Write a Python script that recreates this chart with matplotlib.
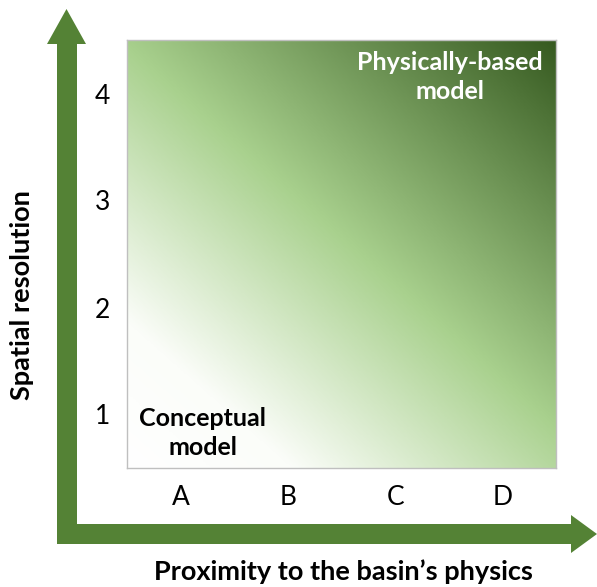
import numpy as np
import matplotlib.pyplot as plt
from matplotlib.colors import LinearSegmentedColormap
from matplotlib.patches import Polygon, Rectangle

plt.rcParams['font.family'] = ['Lato', 'DejaVu Sans']

x_labels = ['A', 'B', 'C', 'D']
y_labels = ['1', '2', '3', '4']
x_title = 'Proximity to the basin\u2019s physics'
y_title = 'Spatial resolution'
low_label = 'Conceptual\nmodel'
high_label = 'Physically-based\nmodel'

W, H = 597, 587
fig = plt.figure(figsize=(W / 100, H / 100), dpi=100)

# arrows drawn in pixel coords on an overlay axes
ov = fig.add_axes([0, 0, 1, 1])
ov.set_xlim(0, W)
ov.set_ylim(H, 0)
ov.axis('off')
green = '#548235'
ov.add_patch(Rectangle((57, 42), 20, 502, color=green, lw=0))
ov.add_patch(Rectangle((57, 524), 516, 20, color=green, lw=0))
ov.add_patch(Polygon([[47, 44], [86, 44], [66.5, 9]], color=green, lw=0))
ov.add_patch(Polygon([[571, 515], [571, 553], [597, 534]], color=green, lw=0))

ax = fig.add_axes([127 / W, 1 - 468 / H, (556 - 127) / W, (468 - 40) / H])
cmap = LinearSegmentedColormap.from_list(
    'g', [(0, '#ffffff'), (0.18, '#fbfdf9'), (0.52, '#a9d18e'), (1.0, '#365a20')])
gx, gy = np.meshgrid(np.linspace(0, 1, 300), np.linspace(0, 1, 300))
t = 0.47 * gx + 0.53 * gy
ax.imshow(t, cmap=cmap, extent=[0.5, 4.5, 0.5, 4.5], origin='lower',
          aspect='auto', vmin=0, vmax=1, interpolation='bilinear')
ax.set_xlim(0.5, 4.5)
ax.set_ylim(0.5, 4.5)
ax.set_xticks(range(1, len(x_labels) + 1))
ax.set_xticklabels(x_labels, fontsize=19)
ax.set_yticks(range(1, len(y_labels) + 1))
ax.set_yticklabels(y_labels, fontsize=19)
ax.tick_params(length=0, pad=12)
ax.tick_params(axis='y', pad=12)
for s in ax.spines.values():
    s.set_color('#bfbfbf')
    s.set_linewidth(1)

ax.text(0.177, 0.02, low_label, transform=ax.transAxes, ha='center', va='bottom',
        fontsize=18, fontweight='bold', color='black', linespacing=1.35)
ax.text(0.753, 0.975, high_label, transform=ax.transAxes, ha='center', va='top',
        fontsize=18, fontweight='bold', color='white', linespacing=1.35)

fig.text(343 / W, 1 - 572 / H, x_title, ha='center', va='center',
         fontsize=19.5, fontweight='bold')
fig.text(22 / W, 1 - 295 / H, y_title, ha='center', va='center',
         fontsize=19.5, fontweight='bold', rotation=90)

fig.savefig('out.png', dpi=100)
